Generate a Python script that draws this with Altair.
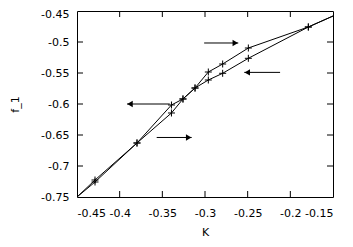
import altair as alt
import pandas as pd

# ---- data ----
K = [-0.45, -0.4289, -0.3797, -0.3393, -0.3258, -0.3117, -0.2961, -0.2793, -0.2492, -0.1789, -0.15]
F_UPPER = [-0.75, -0.7226, -0.6629, -0.6016, -0.5919, -0.5742, -0.5484, -0.5355, -0.5097, -0.4758, -0.4581]
F_LOWER = [-0.75, -0.7258, -0.6629, -0.6145, -0.5919, -0.5742, -0.5613, -0.5505, -0.5263, -0.4758, -0.4581]
HAS_MARKER = [False, True, True, True, True, True, True, True, True, True, False]

X_TICKS = [-0.45, -0.4, -0.35, -0.3, -0.25, -0.2, -0.15]
Y_TICKS = [-0.75, -0.7, -0.65, -0.6, -0.55, -0.5, -0.45]
X_INNER = [-0.4, -0.35, -0.3, -0.25, -0.2]
Y_INNER = [-0.7, -0.65, -0.6, -0.55, -0.5]

ARROW_FROM = [-0.301, -0.212, -0.3413, -0.3566]
ARROW_TO = [-0.261, -0.254, -0.3914, -0.3156]
ARROW_F = [-0.5016, -0.549, -0.600, -0.654]
ARROW_DIR = ["right", "left", "left", "right"]

rows = []
for name, fs in (("upper", F_UPPER), ("lower", F_LOWER)):
    for i, (k, f, m) in enumerate(zip(K, fs, HAS_MARKER)):
        rows.append({"series": name, "K": k, "f": f, "marker": m, "i": i})
curves = pd.DataFrame(rows)
arrows = pd.DataFrame({"K": ARROW_FROM, "K2": ARROW_TO, "f": ARROW_F, "dir": ARROW_DIR})

xs = alt.Scale(domain=[-0.45, -0.15], nice=False, zero=False)
ys = alt.Scale(domain=[-0.75, -0.45], nice=False, zero=False)

FONT = "DejaVu Sans"

x_axis = alt.Axis(values=X_TICKS, ticks=False, domain=False, grid=False,
                  labelExpr="toString(datum.value)", labelPadding=10,
                  labelFont=FONT, labelFontSize=11, labelColor="black",
                  title="K", titleFont=FONT, titleFontSize=11, titleFontWeight="normal",
                  titleColor="black", titleY=38, titleBaseline="alphabetic")
y_axis = alt.Axis(values=Y_TICKS, ticks=False, domain=False, grid=False,
                  labelExpr="toString(datum.value)", labelPadding=8,
                  labelOffset={"condition": {"test": "datum.value == -0.45", "value": 3}, "value": 0},
                  labelFont=FONT, labelFontSize=11, labelColor="black",
                  title="f_1", titleFont=FONT, titleFontSize=11, titleFontWeight="normal",
                  titleColor="black", titleX=-62, titleY=93, titleAngle=-90,
                  titleAlign="center", titleBaseline="middle")

X = lambda field: alt.X(field, scale=xs, axis=x_axis)
Y = lambda field: alt.Y(field, scale=ys, axis=y_axis)

lines = alt.Chart(curves).mark_line(color="black", strokeWidth=1).encode(
    x=X("K:Q"), y=Y("f:Q"), detail="series:N", order="i:Q",
)

markers = alt.Chart(curves).transform_filter("datum.marker").mark_point(
    shape="M-1,0L1,0M0,-1L0,1", size=49, filled=False, color="black", strokeWidth=1, opacity=1
).encode(x=X("K:Q"), y=Y("f:Q"))

arrow_lines = alt.Chart(arrows).mark_rule(color="black", strokeWidth=1).encode(
    x=X("K:Q"), x2="K2:Q", y=Y("f:Q"),
)
heads_r = alt.Chart(arrows).transform_filter("datum.dir == 'right'").mark_point(
    shape="triangle-right", size=40, filled=True, color="black", opacity=1, xOffset=-3
).encode(x=X("K2:Q"), y=Y("f:Q"))
heads_l = alt.Chart(arrows).transform_filter("datum.dir == 'left'").mark_point(
    shape="triangle-left", size=40, filled=True, color="black", opacity=1, xOffset=3
).encode(x=X("K2:Q"), y=Y("f:Q"))

xt = pd.DataFrame({"K": X_INNER})
yt = pd.DataFrame({"f": Y_INNER})
tick_b = alt.Chart(xt).mark_rule(color="black", strokeWidth=1).encode(
    x=X("K:Q"), y=alt.value(186), y2=alt.value(180))
tick_t = alt.Chart(xt).mark_rule(color="black", strokeWidth=1).encode(
    x=X("K:Q"), y=alt.value(0), y2=alt.value(6))
tick_l = alt.Chart(yt).mark_rule(color="black", strokeWidth=1).encode(
    y=Y("f:Q"), x=alt.value(0), x2=alt.value(6))
tick_r = alt.Chart(yt).mark_rule(color="black", strokeWidth=1).encode(
    y=Y("f:Q"), x=alt.value(256), x2=alt.value(250))

chart = alt.layer(
    lines, markers, arrow_lines, heads_r, heads_l, tick_b, tick_t, tick_l, tick_r
).properties(
    width=256, height=186,
    background="white",
    autosize=alt.AutoSizeParams(type="none"),
    padding={"left": 69, "top": 3, "right": 12, "bottom": 40},
).configure_view(
    stroke="black", strokeWidth=1
)

chart.save("out.html", embed_options={"renderer": "svg", "actions": False})
